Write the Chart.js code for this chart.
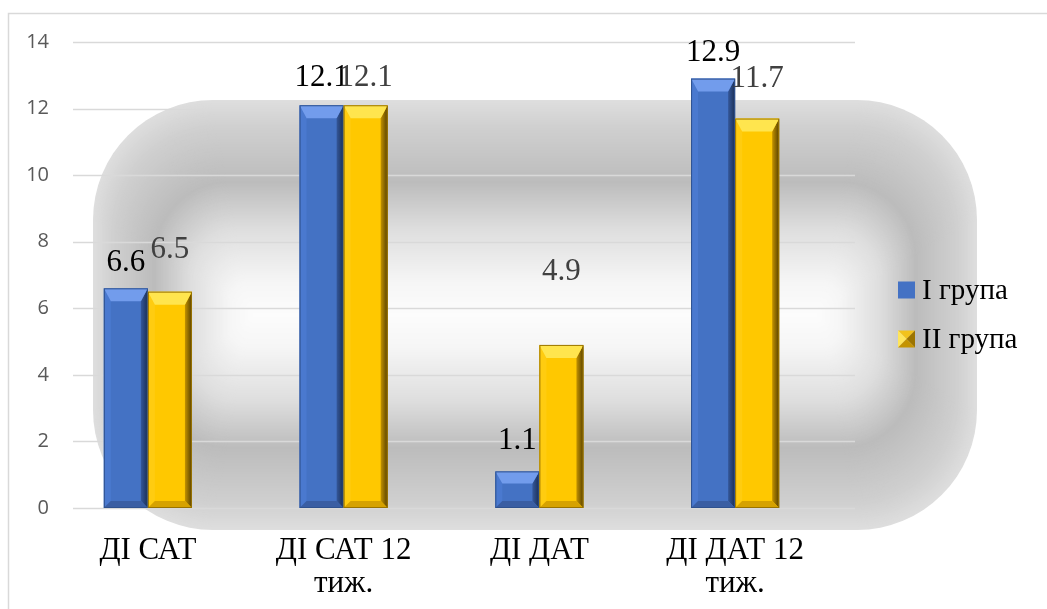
<!DOCTYPE html>
<html lang="uk">
<head>
<meta charset="utf-8">
<title>ДІ САТ / ДІ ДАТ</title>
<script src="https://cdn.jsdelivr.net/npm/chart.js@4.4.1/dist/chart.umd.min.js"></script>
<style>
  html, body { margin: 0; padding: 0; background: #fff; }
  #wrap { width: 1047px; height: 609px; }
</style>
</head>
<body>
<div id="wrap"><canvas id="chart" width="1047" height="609"></canvas></div>
<script>
// Data
const categories = ['ДІ САТ', ['ДІ САТ 12', 'тиж.'], 'ДІ ДАТ', ['ДІ ДАТ 12', 'тиж.']];
const seriesNames = ['I група', 'II група'];
const group1 = [6.6, 12.1, 1.1, 12.9];
const group2 = [6.5, 12.1, 4.9, 11.7];
const yTicks = [0, 2, 4, 6, 8, 10, 12, 14];

// value labels: lift above the bar top (px) and colour per series
const labelLift = [[25, 27, 31, 26], [42, 27, 73, 40]];
const labelColors = ['#000000', '#404040'];

const SERIF = '"Liberation Serif", Tinos, "Times New Roman", serif';
const SANS = '"Open Sans", "Liberation Sans", sans-serif';

// bevel palettes for the bars
const palettes = [
    { face: '#4472c4', top: '#729cec', left: '#4a79cf', right: ['#34579a', '#1b2f55'], bottom: '#3a5ea3', line: '#2f528f' },
    { face: '#ffc800', top: '#ffe54e', left: '#ffcc10', right: ['#c29200', '#574000'], bottom: '#d6a200', line: '#9a7400' }
];

function grey(v) { v = Math.round(v); return `rgb(${v},${v},${v})`; }

function lerpStops(stops, t) {
    for (let i = 1; i < stops.length; i++) {
        if (t <= stops[i][0]) {
            const a = stops[i - 1], b = stops[i];
            const k = (t - a[0]) / (b[0] - a[0]);
            return a[1] + (b[1] - a[1]) * k;
        }
    }
    return stops[stops.length - 1][1];
}

// white page, frame lines and the soft grey backdrop
const backdrop = {
    id: 'backdrop',
    beforeDraw(chart) {
        const ctx = chart.ctx;
        ctx.save();
        ctx.fillStyle = '#ffffff';
        ctx.fillRect(0, 0, chart.width, chart.height);

        ctx.strokeStyle = '#d9d9d9';
        ctx.lineWidth = 1.5;
        ctx.beginPath();
        ctx.moveTo(8.5, chart.height);
        ctx.lineTo(8.5, 13.5);
        ctx.lineTo(chart.width, 13.5);
        ctx.stroke();

        // rounded panel filled with a path-style gradient
        const x0 = 93, y0 = 100, x1 = 977, y1 = 530;
        const half = (y1 - y0) / 2;
        const stops = [[0, 222], [0.12, 208], [0.38, 188], [0.6, 222], [0.85, 246], [1, 252]];
        const N = 215;
        for (let i = 0; i <= N; i++) {
            const t = i / N;
            const dy = t * half;
            const dx = t * half * 0.75;
            const r = Math.max(120 * (1 - t), 1);
            ctx.fillStyle = grey(lerpStops(stops, t));
            ctx.beginPath();
            ctx.roundRect(x0 + dx, y0 + dy, (x1 - x0) - 2 * dx, Math.max((y1 - y0) - 2 * dy, 0.5), r);
            ctx.fill();
        }
        ctx.restore();
    }
};

// horizontal gridlines, drawn from the y scale ticks
const gridLines = {
    id: 'gridLines',
    beforeDatasetsDraw(chart) {
        const ctx = chart.ctx, ys = chart.scales.y, area = chart.chartArea;
        ctx.save();
        ctx.strokeStyle = '#d9d9d9';
        ctx.lineWidth = 1.3;
        ys.ticks.forEach(tk => {
            const py = Math.round(ys.getPixelForValue(tk.value)) + 0.5;
            ctx.beginPath();
            ctx.moveTo(area.left + 23, py);
            ctx.lineTo(area.right + 22, py);
            ctx.stroke();
        });
        ctx.restore();
    }
};

function poly(ctx, pts, fill) {
    ctx.beginPath();
    ctx.moveTo(pts[0][0], pts[0][1]);
    for (let i = 1; i < pts.length; i++) ctx.lineTo(pts[i][0], pts[i][1]);
    ctx.closePath();
    ctx.fillStyle = fill;
    ctx.fill();
}

// bevelled faces over every bar, then the value labels
const bevelBars = {
    id: 'bevelBars',
    afterDatasetsDraw(chart) {
        const ctx = chart.ctx;
        ctx.save();
        chart.data.datasets.forEach((ds, di) => {
            const pal = palettes[di];
            chart.getDatasetMeta(di).data.forEach(bar => {
                const l = bar.x - bar.width / 2, r = bar.x + bar.width / 2;
                const t = bar.y, b = bar.base;
                const h = b - t;
                const w = Math.min(7, bar.width / 4);
                const ht = Math.min(13, h / 3), hb = Math.min(7, h / 4);

                poly(ctx, [[l, t], [l + w, t + ht], [l + w, b - hb], [l, b]], pal.left);
                const g = ctx.createLinearGradient(r - w, 0, r, 0);
                g.addColorStop(0, pal.right[0]);
                g.addColorStop(1, pal.right[1]);
                poly(ctx, [[r, t], [r, b], [r - w, b - hb], [r - w, t + ht]], g);
                poly(ctx, [[l, t], [r, t], [r - w, t + ht], [l + w, t + ht]], pal.top);
                poly(ctx, [[l, b], [l + w, b - hb], [r - w, b - hb], [r, b]], pal.bottom);

                ctx.strokeStyle = pal.line;
                ctx.lineWidth = 1;
                ctx.strokeRect(l + 0.5, t + 0.5, r - l - 1, h - 1);
            });
        });

        ctx.font = `31px ${SERIF}`;
        ctx.textAlign = 'center';
        ctx.textBaseline = 'middle';
        chart.data.datasets.forEach((ds, di) => {
            ctx.fillStyle = labelColors[di];
            chart.getDatasetMeta(di).data.forEach((bar, i) => {
                ctx.fillText(ds.data[i].toFixed(1), bar.x, bar.y - labelLift[di][i]);
            });
        });
        ctx.restore();
    }
};

// legend on the right
const sideLegend = {
    id: 'sideLegend',
    afterDraw(chart) {
        const ctx = chart.ctx;
        const bx = 898, size = 17, rows = [290, 339];
        ctx.save();
        ctx.font = `29px ${SERIF}`;
        ctx.textAlign = 'left';
        ctx.textBaseline = 'middle';
        chart.data.datasets.forEach((ds, di) => {
            const cy = rows[di], top = cy - size / 2;
            if (di === 0) {
                ctx.fillStyle = palettes[0].face;
                ctx.fillRect(bx, top, size, size);
            } else {
                const cx = bx + size / 2;
                poly(ctx, [[bx, top], [bx + size, top], [cx, cy]], '#f2c21c');
                poly(ctx, [[bx, top], [cx, cy], [bx, top + size]], '#ffe55a');
                poly(ctx, [[bx + size, top], [bx + size, top + size], [cx, cy]], '#9c7400');
                poly(ctx, [[bx, top + size], [cx, cy], [bx + size, top + size]], '#c49300');
            }
            ctx.fillStyle = '#000000';
            ctx.fillText(ds.label, bx + size + 7, cy + 1);
        });
        ctx.restore();
    }
};

new Chart(document.getElementById('chart'), {
    type: 'bar',
    data: {
        labels: categories,
        datasets: [
            { label: seriesNames[0], data: group1, backgroundColor: palettes[0].face },
            { label: seriesNames[1], data: group2, backgroundColor: palettes[1].face }
        ]
    },
    options: {
        responsive: false,
        animation: false,
        devicePixelRatio: 1,
        layout: { padding: { left: 0, right: 214, top: 42, bottom: 10 } },
        datasets: { bar: { barPercentage: 1, categoryPercentage: 0.45 } },
        scales: {
            x: {
                grid: { display: false, drawTicks: false },
                border: { display: false },
                ticks: {
                    color: '#000000',
                    padding: 26,
                    maxRotation: 0,
                    autoSkip: false,
                    font: { family: SERIF, size: 31, lineHeight: 1.07 }
                },
                afterFit(scale) { scale.height = 91; }
            },
            y: {
                min: yTicks[0],
                max: yTicks[yTicks.length - 1],
                grid: { display: false, drawTicks: false },
                border: { display: false },
                ticks: {
                    stepSize: yTicks[1] - yTicks[0],
                    color: '#595959',
                    padding: 1,
                    font: { family: SANS, size: 20 }
                },
                afterFit(scale) { scale.width = 50; }
            }
        },
        plugins: {
            legend: { display: false },
            tooltip: { enabled: false }
        }
    },
    plugins: [backdrop, gridLines, bevelBars, sideLegend]
});
</script>
</body>
</html>
